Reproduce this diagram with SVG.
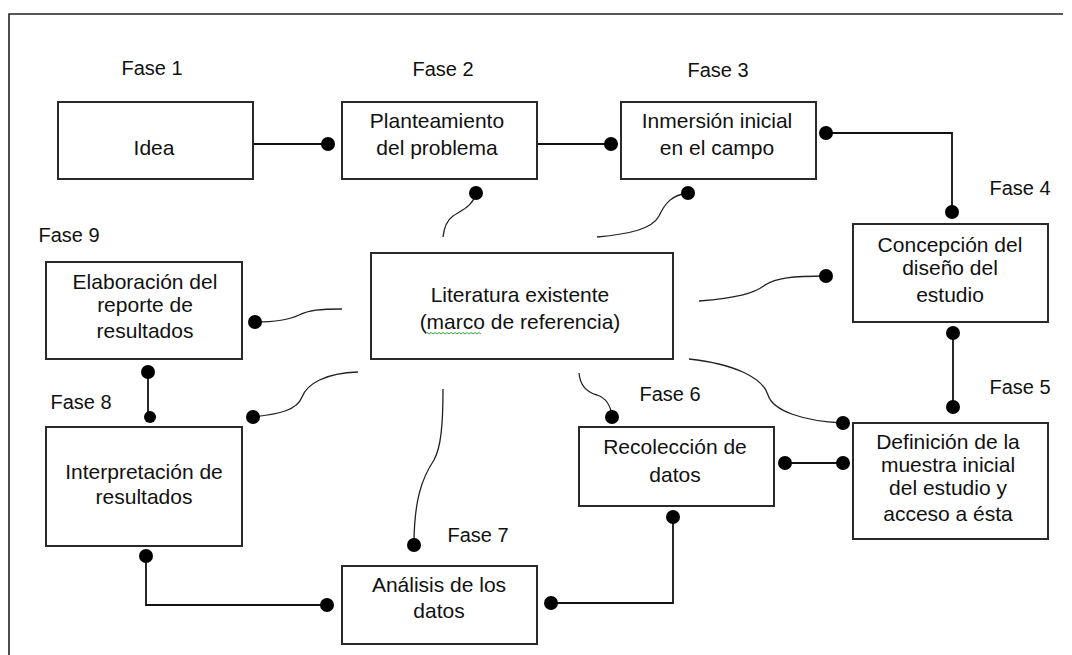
<svg xmlns="http://www.w3.org/2000/svg" width="1072" height="655" viewBox="0 0 1072 655">
<style>
  .frame{stroke:#222;stroke-width:1.6;fill:none}
  .box{fill:#fff;stroke:#2a2a2a;stroke-width:2}
  .t{font-family:"Liberation Sans",Arial,sans-serif;font-size:21px;fill:#111;text-anchor:middle}
  .f{font-family:"Liberation Sans",Arial,sans-serif;font-size:20px;fill:#111;text-anchor:middle}
  .ln{stroke:#111;stroke-width:1.8;fill:none}
  .cv{stroke:#222;stroke-width:1.3;fill:none}
  .dot{fill:#000}
  .sq{stroke:#3aa33a;stroke-width:1;fill:none}
</style>
<rect width="1072" height="655" fill="#fff"/>
<path class="frame" d="M9,655 V14 H1063"/>

<g id="labels">
  <text class="f" x="152" y="75">Fase 1</text>
  <text class="f" x="443" y="76">Fase 2</text>
  <text class="f" x="718" y="77">Fase 3</text>
  <text class="f" x="1020" y="195">Fase 4</text>
  <text class="f" x="1020" y="394">Fase 5</text>
  <text class="f" x="670" y="401">Fase 6</text>
  <text class="f" x="478" y="542">Fase 7</text>
  <text class="f" x="81" y="409">Fase 8</text>
  <text class="f" x="69" y="242">Fase 9</text>
</g>

<g id="connectors">
  <path class="ln" d="M253,144 H328"/>
  <path class="ln" d="M537,144 H611"/>
  <path class="ln" d="M826,133 H952 V212"/>
  <path class="ln" d="M953,333 V407"/>
  <path class="ln" d="M785,463 H843"/>
  <path class="ln" d="M673,517 V603 H551"/>
  <path class="ln" d="M327,605 H146 V556"/>
  <path class="ln" d="M148,372 V420"/>

  <path class="cv" d="M443,237 C444,228 446,221 453,216 C462,210 473,206 476,193"/>
  <path class="cv" d="M597,237 C630,234 652,229 659,216 C665,203 672,195 688,193"/>
  <path class="cv" d="M699,301 C738,298 755,293 765,285 C776,278 792,276 826,276"/>
  <path class="cv" d="M689,359 C735,364 763,378 768,395 C773,411 803,421 843,423"/>
  <path class="cv" d="M579,373 C580,385 586,392 597,395 C606,398 611,406 612,417"/>
  <path class="cv" d="M443,389 C443,425 441,447 434,460 C422,478 414,500 414,545"/>
  <path class="cv" d="M358,372 C325,373 307,384 302,397 C297,410 280,414 253,417"/>
  <path class="cv" d="M342,309 C320,309 309,310 299,315 C289,320 275,322 255,322"/>

  <circle class="dot" cx="328" cy="144" r="7"/>
  <circle class="dot" cx="611" cy="144" r="7"/>
  <circle class="dot" cx="826" cy="133" r="7"/>
  <circle class="dot" cx="952" cy="212" r="7"/>
  <circle class="dot" cx="953" cy="333" r="7"/>
  <circle class="dot" cx="953" cy="407" r="7"/>
  <circle class="dot" cx="785" cy="463" r="7"/>
  <circle class="dot" cx="843" cy="463" r="7"/>
  <circle class="dot" cx="673" cy="517" r="7"/>
  <circle class="dot" cx="551" cy="603" r="7"/>
  <circle class="dot" cx="327" cy="605" r="7"/>
  <circle class="dot" cx="146" cy="556" r="7"/>
  <circle class="dot" cx="148" cy="372" r="7"/>
  <circle class="dot" cx="150" cy="417" r="6"/>
  <circle class="dot" cx="476" cy="193" r="7"/>
  <circle class="dot" cx="688" cy="193" r="7"/>
  <circle class="dot" cx="826" cy="276" r="7"/>
  <circle class="dot" cx="843" cy="423" r="7"/>
  <circle class="dot" cx="612" cy="417" r="7"/>
  <circle class="dot" cx="414" cy="545" r="7"/>
  <circle class="dot" cx="253" cy="417" r="7"/>
  <circle class="dot" cx="255" cy="322" r="7"/>
</g>

<g id="idea">
  <rect class="box" x="58" y="102" width="195" height="77"/>
  <text class="t" x="154" y="155">Idea</text>
</g>
<g id="planteamiento">
  <rect class="box" x="342" y="102" width="195" height="77"/>
  <text class="t" x="437" y="128">Planteamiento</text>
  <text class="t" x="437" y="155">del problema</text>
</g>
<g id="inmersion">
  <rect class="box" x="621" y="102" width="195" height="77"/>
  <text class="t" x="717" y="128">Inmersión inicial</text>
  <text class="t" x="717" y="155">en el campo</text>
</g>
<g id="concepcion">
  <rect class="box" x="853" y="224" width="195" height="98"/>
  <text class="t" x="950" y="252">Concepción del</text>
  <text class="t" x="950" y="275">diseño del</text>
  <text class="t" x="950" y="302">estudio</text>
</g>
<g id="literatura">
  <rect class="box" x="371" y="253" width="302" height="106"/>
  <text class="t" x="520" y="302">Literatura existente</text>
  <text class="t" x="520" y="329">(marco de referencia)</text>
  <path class="sq" d="M425,334 l2,-1.5 l2,1.5 l2,-1.5 l2,1.5 l2,-1.5 l2,1.5 l2,-1.5 l2,1.5 l2,-1.5 l2,1.5 l2,-1.5 l2,1.5 l2,-1.5 l2,1.5 l2,-1.5 l2,1.5 l2,-1.5 l2,1.5 l2,-1.5 l2,1.5 l2,-1.5 l2,1.5 l2,-1.5 l2,1.5 l2,-1.5 l2,1.5 l2,-1.5 l2,1.5"/>
</g>
<g id="elaboracion">
  <rect class="box" x="46" y="262" width="196" height="97"/>
  <text class="t" x="145" y="289">Elaboración del</text>
  <text class="t" x="145" y="312">reporte de</text>
  <text class="t" x="145" y="338">resultados</text>
</g>
<g id="interpretacion">
  <rect class="box" x="46" y="427" width="196" height="119"/>
  <text class="t" x="144" y="479">Interpretación de</text>
  <text class="t" x="144" y="504">resultados</text>
</g>
<g id="recoleccion">
  <rect class="box" x="579" y="427" width="195" height="79"/>
  <text class="t" x="675" y="454">Recolección de</text>
  <text class="t" x="675" y="482">datos</text>
</g>
<g id="definicion">
  <rect class="box" x="853" y="423" width="195" height="116"/>
  <text class="t" x="948" y="449">Definición de la</text>
  <text class="t" x="948" y="472">muestra inicial</text>
  <text class="t" x="948" y="495">del estudio y</text>
  <text class="t" x="948" y="521">acceso a ésta</text>
</g>
<g id="analisis">
  <rect class="box" x="342" y="566" width="195" height="78"/>
  <text class="t" x="439" y="592">Análisis de los</text>
  <text class="t" x="439" y="618">datos</text>
</g>
</svg>
